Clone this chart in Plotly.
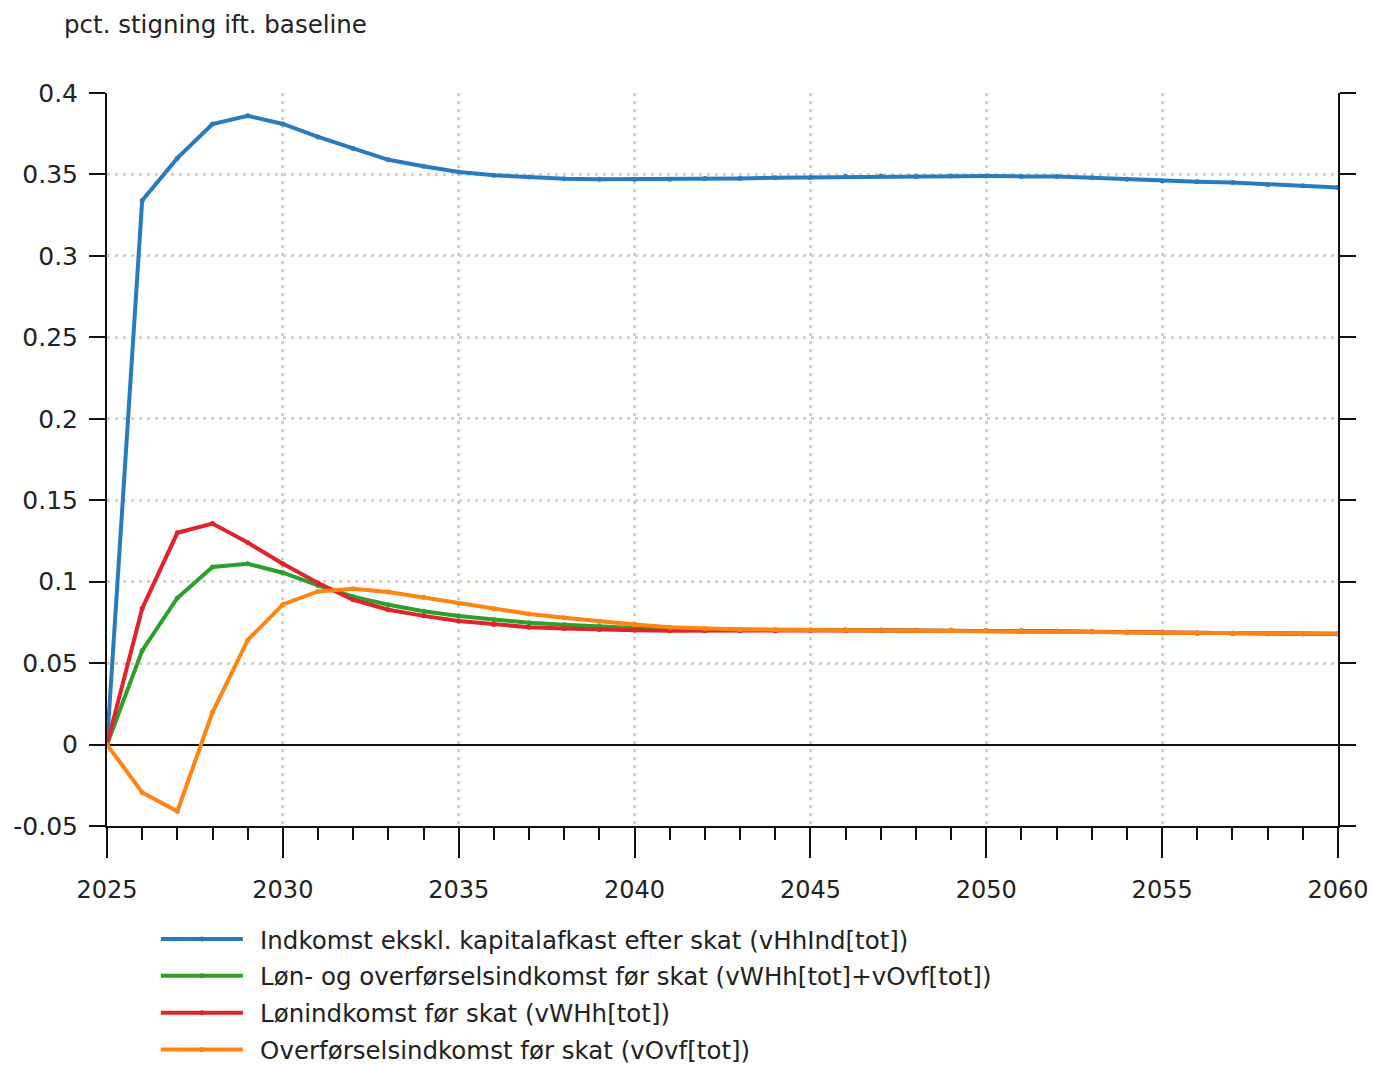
import plotly.graph_objects as go

years = list(range(2025, 2061))

indkomst_efter_skat = [
    0.0, 0.334, 0.360, 0.381, 0.386, 0.381, 0.373, 0.366, 0.359, 0.355,
    0.3515, 0.3495, 0.3484, 0.3474, 0.347, 0.347, 0.347, 0.3475, 0.3475, 0.348,
    0.3482, 0.3487, 0.349, 0.3488, 0.349, 0.349, 0.3488, 0.3488, 0.348, 0.347,
    0.3462, 0.3455, 0.345, 0.3438, 0.343, 0.342,
]
loen_og_overfoersel = [
    0.0, 0.0577, 0.090, 0.109, 0.111, 0.1055, 0.0977, 0.0908, 0.0858, 0.0818,
    0.0789, 0.0766, 0.0748, 0.0736, 0.0724, 0.0715, 0.0709, 0.0706, 0.0704, 0.0703,
    0.0703, 0.0703, 0.0702, 0.0702, 0.0701, 0.0700, 0.0698, 0.0696, 0.0693, 0.0690,
    0.0687, 0.0685, 0.0684, 0.0682, 0.0681, 0.0680,
]
loenindkomst = [
    0.0, 0.0835, 0.130, 0.1357, 0.124, 0.111, 0.0992, 0.0889, 0.0828, 0.079,
    0.0759, 0.0737, 0.072, 0.0713, 0.0706, 0.0701, 0.0699, 0.0698, 0.0698, 0.0699,
    0.0700, 0.0700, 0.0700, 0.0700, 0.0700, 0.0699, 0.0697, 0.0695, 0.0692, 0.0689,
    0.0686, 0.0684, 0.0683, 0.0681, 0.0680, 0.0679,
]
overfoersel = [
    0.0, -0.0294, -0.041, 0.0198, 0.0641, 0.086, 0.094, 0.0957, 0.0937, 0.0904,
    0.0867, 0.0834, 0.0802, 0.0778, 0.0755, 0.0737, 0.072, 0.0711, 0.0707, 0.0705,
    0.0704, 0.0703, 0.0703, 0.0702, 0.0701, 0.0700, 0.0698, 0.0696, 0.0694, 0.0690,
    0.0687, 0.0685, 0.0684, 0.0682, 0.0681, 0.0680,
]

series_names = [
    "Indkomst ekskl. kapitalafkast efter skat (vHhInd[tot])",
    "Løn- og overførselsindkomst før skat (vWHh[tot]+vOvf[tot])",
    "Lønindkomst før skat (vWHh[tot])",
    "Overførselsindkomst før skat (vOvf[tot])",
]
series_values = [indkomst_efter_skat, loen_og_overfoersel, loenindkomst, overfoersel]
series_colors = ["#2a7bbd", "#2ca02c", "#e0242b", "#ff8412"]

y_ticks = [-0.05, 0, 0.05, 0.1, 0.15, 0.2, 0.25, 0.3, 0.35, 0.4]
y_tick_labels = ["-0.05", "0", "0.05", "0.1", "0.15", "0.2", "0.25", "0.3", "0.35", "0.4"]
x_ticks = [2025, 2030, 2035, 2040, 2045, 2050, 2055, 2060]

FONT = "DejaVu Sans"
TXT = "#222222"
GRID = "#d2d2d2"
AXIS = "#111111"

fig = go.Figure()
for name, vals, col in zip(series_names, series_values, series_colors):
    fig.add_trace(go.Scatter(
        x=years, y=vals,
        name="\u2002" + name,  # en space keeps a gap between key line and label
        mode="lines+markers",
        line=dict(color=col, width=4),
        marker=dict(color=col, size=5),
        legendgroup=name,
    ))

fig.update_layout(
    width=1373, height=1067,
    margin=dict(l=107, r=35, t=93, b=241, autoexpand=False),
    paper_bgcolor="white", plot_bgcolor="white",
    font=dict(family=FONT, size=24, color=TXT),
    showlegend=True,
    legend=dict(
        x=0.0397, y=-0.1236, xanchor="left", yanchor="top",
        font=dict(family=FONT, size=24.5, color=TXT),
        itemwidth=82, tracegroupgap=2, traceorder="grouped",
        bgcolor="rgba(0,0,0,0)",
    ),
    annotations=[dict(
        text="pct. stigning ift. baseline", xref="paper", yref="paper",
        x=-0.0365, y=1.116, xanchor="left", yanchor="top", showarrow=False,
        font=dict(family=FONT, size=24.5, color=TXT),
    )],
)

fig.update_xaxes(
    range=[2025, 2060], tickvals=x_ticks, ticks="outside", ticklen=30,
    tickwidth=2, tickcolor=AXIS, automargin=False,
    showline=True, linecolor=AXIS, linewidth=2,
    showgrid=True, gridcolor=GRID, gridwidth=3, griddash="3px,5px",
    zeroline=False, ticklabelstandoff=11,
    tickfont=dict(family=FONT, size=24, color=TXT),
    minor=dict(dtick=1, ticks="outside", ticklen=12, tickwidth=2,
               tickcolor=AXIS, showgrid=False),
)
fig.update_yaxes(
    range=[-0.05, 0.4], tickvals=y_ticks, ticktext=y_tick_labels,
    ticks="outside", ticklen=16, tickwidth=2, tickcolor=AXIS,
    showline=True, linecolor=AXIS, linewidth=2, mirror="ticks", automargin=False,
    showgrid=True, gridcolor=GRID, gridwidth=3, griddash="3px,5px",
    zeroline=True, zerolinecolor=AXIS, zerolinewidth=2,
    ticklabelstandoff=6,
    tickfont=dict(family=FONT, size=25, color=TXT),
)

fig.write_html("out.html")
